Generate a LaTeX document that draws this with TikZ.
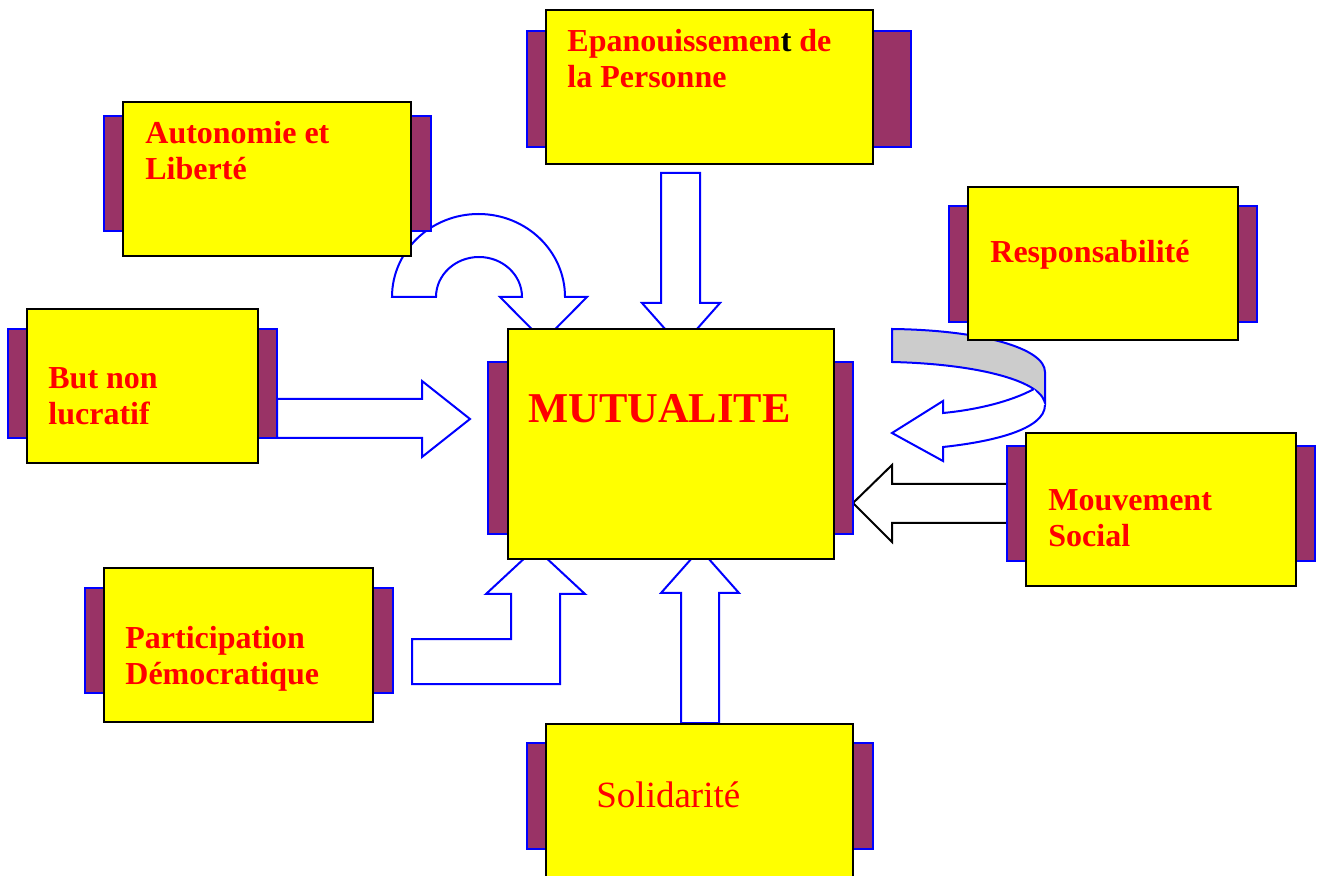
\documentclass[tikz,border=0pt]{standalone}
\usepackage{fontspec}
\setmainfont{Liberation Serif}
\usetikzlibrary{fit,positioning}
\definecolor{tabpurple}{HTML}{993366}
\definecolor{tabblue}{HTML}{0000FF}
\definecolor{cardyellow}{HTML}{FFFF00}
\definecolor{lblred}{HTML}{FF0000}
\definecolor{ribbongray}{HTML}{CCCCCC}
\begin{document}
\begin{tikzpicture}[x=0.5pt,y=-0.5pt,
  tab/.style={draw=tabblue,fill=tabpurple,line width=1pt,inner sep=0pt},
  card/.style={draw=black,fill=cardyellow,line width=1pt,inner sep=0pt},
  lbl/.style={text=lblred,font=\bfseries\fontsize{16pt}{18pt}\selectfont,align=left,anchor=base west,inner sep=0pt},
  hollow/.style={draw=tabblue,fill=white,line width=1pt,line join=miter}
]
\useasboundingbox (0,0) rectangle (1317,876);
\clip (0,0) rectangle (1317,876);
\draw[hollow] (277,399) -- (422,399) -- (422,381) -- (470,419) -- (422,457) -- (422,438) -- (277,438) -- cycle;
\draw[hollow] (392,297) arc[start angle=180,end angle=360,x radius=86.5,y radius=83] -- (587,297) -- (543.5,341) -- (500,297) -- (522,297) arc[start angle=360,end angle=180,x radius=43,y radius=40] -- cycle;
\draw[hollow] (661,173) -- (700,173) -- (700,303) -- (720,303) -- (681,347) -- (642,303) -- (661,303) -- cycle;
\draw[hollow] (681,723) -- (719,723) -- (719,593) -- (739,593) -- (700,549) -- (661,593) -- (681,593) -- cycle;
\draw[hollow] (412,639) -- (511,639) -- (511,594) -- (486,594) -- (535.5,548) -- (585,594) -- (560,594) -- (560,684) -- (412,684) -- cycle;
\draw[hollow,fill=ribbongray] (892,329) .. controls (980,330) and (1045,348) .. (1045,372) -- (1045,405) .. controls (1045,382) and (980,364) .. (892,362) -- cycle;
\draw[hollow] (1034,389) .. controls (1010,402) and (975,410) .. (943,413) -- (943,401) -- (892,433) -- (943,461) -- (943,447) .. controls (990,442) and (1045,430) .. (1045,405);
\draw[hollow,draw=black] (1007,484) -- (892,484) -- (892,465) -- (853,503) -- (892,542) -- (892,523) -- (1007,523);

\node[tab,fit={(527,31) (911,147)}] (epa-tab) {};
\node[card,fit={(546,10) (873,164)}] (epa) {};
\node[lbl] (epa-lbl) at (567,88) {Epanouissemen{\color{black}t} de\\la Personne};
\node[tab,fit={(104,116) (431,231)}] (aut-tab) {};
\node[card,fit={(123,102) (411,256)}] (aut) {};
\node[lbl] (aut-lbl) at (145,180) {Autonomie et\\Libert\'e};
\node[tab,fit={(949,206) (1257,322)}] (res-tab) {};
\node[card,fit={(968,187) (1238,340)}] (res) {};
\node[lbl] (res-lbl) at (990,263) {Responsabilit\'e};
\node[tab,fit={(8,329) (277,438)}] (but-tab) {};
\node[card,fit={(27,309) (258,463)}] (but) {};
\node[lbl] (but-lbl) at (48,425) {But non\\lucratif};
\node[tab,fit={(488,362) (853,534)}] (mut-tab) {};
\node[card,fit={(508,329) (834,559)}] (mut) {};
\node[lbl,font=\bfseries\fontsize{21.25pt}{24pt}\selectfont] (mut-lbl) at (528,423) {MUTUALITE};
\node[tab,fit={(1007,446) (1315,561)}] (mouv-tab) {};
\node[card,fit={(1026,433) (1296,586)}] (mouv) {};
\node[lbl] (mouv-lbl) at (1048,547) {Mouvement\\Social};
\node[tab,fit={(85,588) (393,693)}] (part-tab) {};
\node[card,fit={(104,568) (373,722)}] (part) {};
\node[lbl] (part-lbl) at (125,684) {Participation\\D\'emocratique};
\node[tab,fit={(527,743) (873,849)}] (sol-tab) {};
\node[card,fit={(546,724) (853,900)}] (sol) {};
\node[lbl,font=\fontsize{18.5pt}{21pt}\selectfont] (sol-lbl) at (596,807) {Solidarit\'e};
\end{tikzpicture}
\end{document}
